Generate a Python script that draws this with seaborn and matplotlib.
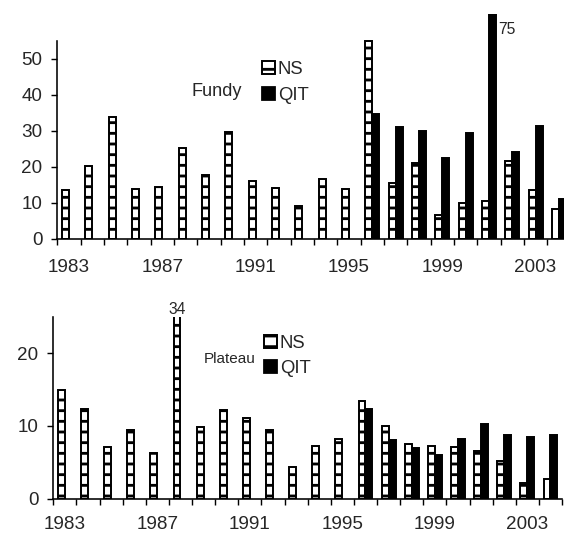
import matplotlib
matplotlib.use('Agg')
import matplotlib.pyplot as plt
from matplotlib.patches import Patch
import seaborn as sns
import numpy as np
import pandas as pd

# data
years = list(range(1983, 2005))
nan = np.nan
fundy_ns = [13.4, 20.3, 33.8, 13.7, 14.3, 25.2, 17.6, 29.6, 16.1, 14.0, 9.0,
            16.5, 13.9, 55.0, 15.6, 21.1, 6.5, 10.0, 10.4, 21.6, 13.6, 8.3]
fundy_qit = [nan] * 13 + [34.7, 31.2, 29.9, 22.3, 29.5, 75, 24.0, 31.4, 11.0]
plateau_ns = [15.0, 12.3, 7.1, 9.4, 6.3, 34, 9.8, 12.2, 11.1, 9.4, 4.3,
              7.3, 8.2, 13.4, 10.0, 7.5, 7.2, 7.1, 6.6, 5.2, 2.1, 2.7]
plateau_qit = [nan] * 13 + [12.3, 8.1, 7.0, 6.0, 8.2, 10.3, 8.8, 8.5, 8.8]
series = ['NS', 'QIT']
label_years = years[::4]

# dpi 128 so the '--' hatch stripes come out ~10 px apart like the original
DPI = 128
sns.set_style('ticks')
plt.rcParams['font.family'] = ['Liberation Sans', 'DejaVu Sans']
plt.rcParams['hatch.linewidth'] = 1.6

fig = plt.figure(figsize=(564 / DPI, 533 / DPI), dpi=DPI)
ax1 = fig.add_axes([0.1016, 0.5522, 0.9101, 0.4216])
ax2 = fig.add_axes([0.0945, 0.0644, 0.9020, 0.3411])


def panel(ax, ns, qit, ymax, yticks, spine_top, xpad):
    df = pd.DataFrame({'year': [str(y) for y in years] * 2,
                       'series': ['NS'] * len(years) + ['QIT'] * len(years),
                       'value': ns + qit})
    sns.barplot(data=df, x='year', y='value', hue='series', hue_order=series,
                order=[str(y) for y in years],
                palette={'NS': 'white', 'QIT': 'black'}, width=0.6,
                edgecolor='black', linewidth=1.1, errorbar=None, legend=False, ax=ax)
    # NS bars get the striped fill, except the last (plain) one
    ns_bars = ax.containers[0].patches
    for p in ns_bars[:-1]:
        p.set_hatch('--')
    ax.set_xlim(-0.5, len(years) - 0.5)
    ax.set_ylim(0, ymax)
    ax.set_yticks(yticks)
    ax.set_xticks([years.index(y) for y in label_years], labels=[str(y) for y in label_years])
    ax.set_xticks(np.arange(-0.5, len(years), 1), minor=True)
    ax.tick_params(axis='x', which='major', length=0, pad=xpad, labelsize=10.6)
    ax.tick_params(axis='x', which='minor', length=3.1, width=0.8, color='black')
    ax.tick_params(axis='y', length=3.1, width=0.8, pad=5.3, labelsize=10.6, color='black')
    ax.set_xlabel('')
    ax.set_ylabel('')
    sns.despine(ax=ax)
    for s in ['left', 'bottom']:
        ax.spines[s].set_color('black')
        ax.spines[s].set_linewidth(0.9)
    ax.spines['left'].set_bounds(0, spine_top)
    return ns_bars


panel(ax1, fundy_ns, fundy_qit, 62.5, [0, 10, 20, 30, 40, 50], 55, 11.5)
ns2 = panel(ax2, plateau_ns, plateau_qit, 25, [0, 10, 20], 25, 10)

# value labels for the clipped bars
qit1 = ax1.containers[1].patches
big = qit1[fundy_qit[13:].index(75)]
ax1.annotate('75', xy=(big.get_x() + big.get_width(), 62.5), xytext=(1.5, -4.5),
             textcoords='offset points', ha='left', va='top', fontsize=8.8)
tall = ns2[plateau_ns.index(34)]
ax2.annotate('34', xy=(tall.get_x() + tall.get_width() / 2, 25), xytext=(0, 0),
             textcoords='offset points', ha='center', va='bottom', fontsize=8.8)

handles = [Patch(facecolor='white', edgecolor='black', hatch='--', linewidth=1.1),
           Patch(facecolor='black', edgecolor='black')]
for ax, x, y in [(ax1, 0.4645, 0.885), (ax2, 0.468, 0.372)]:
    ax.legend(handles, series, loc='upper left', bbox_to_anchor=(x, y),
              bbox_transform=fig.transFigure, frameon=False, fontsize=10.4,
              handlelength=0.7, handleheight=0.7, handletextpad=0.15,
              labelspacing=0.45, borderpad=0, borderaxespad=0)

fig.text(0.3848, 0.8274, 'Fundy', ha='center', va='center', fontsize=10.2)
fig.text(0.4078, 0.3265, 'Plateau', ha='center', va='center', fontsize=8.6)

fig.savefig('out.png', dpi=DPI)
